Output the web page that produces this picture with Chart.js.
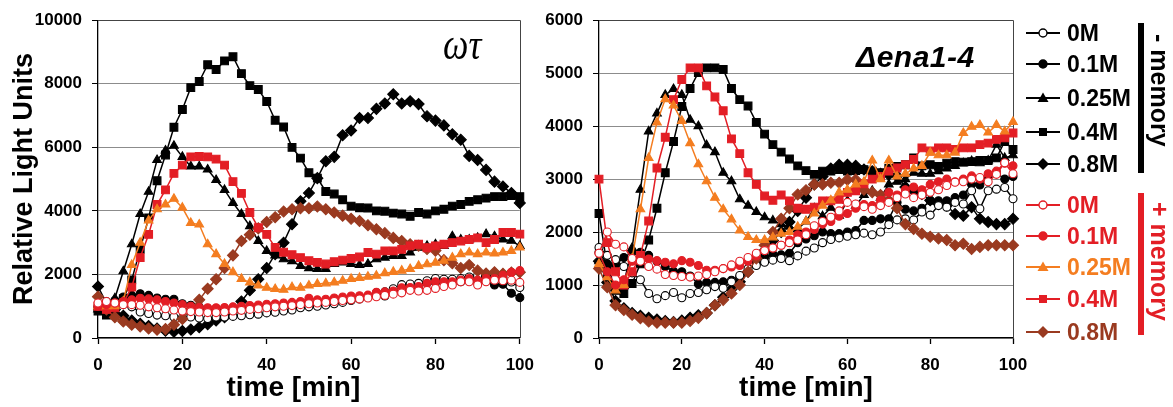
<!DOCTYPE html>
<html>
<head>
<meta charset="utf-8">
<script src="https://cdn.jsdelivr.net/npm/chart.js@4.4.0/dist/chart.umd.min.js"></script>
<style>
  body { margin: 0; background: #fff; width: 1173px; height: 407px; overflow: hidden; position: relative;
         font-family: Arial, "Liberation Sans", sans-serif; }
  canvas { position: absolute; top: 0; }
  #cWt { left: 0; }
  #cEna { left: 545px; }
  .tag { position: absolute; white-space: nowrap; }
  .row { position: absolute; left: 1026px; height: 23px; }
  .row svg { position: absolute; left: 0; top: 3px; }
  .row span { position: absolute; left: 41px; top: 0; font: bold 23px/23px Arial, "Liberation Sans", sans-serif; }
  .bar { position: absolute; left: 1138px; width: 6px; }
  .mem { position: absolute; left: 1146px; width: 28px; writing-mode: vertical-rl; text-align: center;
         font: bold 25px/28px Arial, "Liberation Sans", sans-serif; }
</style>
</head>
<body>
<canvas id="cWt" width="545" height="407"></canvas>
<canvas id="cEna" width="500" height="407"></canvas>
<div class="tag" style="left:443px;top:30px;font:italic 36px/36px 'Liberation Serif',serif;transform:scaleY(1.25);transform-origin:0 100%;">ωτ</div>
<div class="tag" style="left:856px;top:42px;font:italic bold 30px/30px Arial,'Liberation Sans',sans-serif;letter-spacing:0.5px;">Δena1-4</div>
<div id="legend"></div>
<script>
// ---- data: time points (min) ----
const times = [0,2,4,6,8,10,12,14,16,18,20,22,24,26,28,30,32,34,36,38,40,42,44,46,48,50,
  52,54,56,58,60,62,64,66,68,70,72,74,76,78,80,82,84,86,88,90,92,94,96,98,100];
const xTicks = [0,20,40,60,80,100];
const wtYTicks = [0,2000,4000,6000,8000,10000];
const enaYTicks = [0,1000,2000,3000,4000,5000,6000];
const concLabels = ['0M','0.1M','0.25M','0.4M','0.8M'];

// ---- wt, - memory ----
const wtNeg0 = [1000,1150,1050,1050,980,820,770,720,700,660,640,
  660,630,610,660,660,680,700,730,750,790,
  810,850,880,950,980,1000,1040,1080,1120,1180,
  1230,1300,1380,1450,1550,1680,1700,1720,1800,1870,
  1850,1850,1870,1920,1970,1870,1970,1900,1760,1590];
const wtNeg01 = [900,1080,1180,1290,1340,1390,1340,1260,1220,1220,1080,
  1030,980,920,920,920,920,940,960,980,1000,
  1000,1020,1050,1100,1080,1100,1150,1200,1230,1230,
  1260,1300,1420,1320,1490,1520,1590,1620,1720,1750,
  1750,1750,1770,1850,1770,1790,1670,1690,1410,1270];
const wtNeg025 = [900,1000,1250,2100,2950,3900,4600,5600,5900,6050,5700,
  5400,5400,5300,4970,4660,4250,3900,3520,3050,2740,
  2600,2480,2420,2270,2200,2170,2170,2330,2380,2330,
  2300,2330,2480,2530,2580,2580,2690,2840,2900,2950,
  2900,3200,3100,3100,3150,3270,3200,3100,3060,2900];
const wtNeg04 = [850,720,770,1240,1830,2790,3780,4950,5760,6630,7190,
  7880,8070,8600,8450,8720,8850,8320,7940,7820,7440,
  6850,6640,6000,5660,5200,5030,4610,4530,4350,4150,
  4100,4090,4000,3990,3930,3900,3830,3950,3900,4000,
  4050,4150,4200,4300,4350,4400,4450,4450,4480,4450];
const wtNeg08 = [1620,1100,900,700,550,450,380,300,230,200,220,
  270,340,430,550,650,850,1150,1500,1850,2200,
  2640,3000,3580,4300,4560,5030,5560,5700,6380,6530,
  6920,6920,7210,7380,7670,7380,7450,7360,6980,6840,
  6690,6410,6240,5730,5600,5290,4920,4770,4560,4250];

// ---- wt, + memory ----
const wtPos0 = [1100,1150,1100,1050,1050,1030,980,950,920,880,850,
  830,820,800,800,820,850,870,900,920,950,
  980,1000,1020,1050,1080,1100,1120,1150,1180,1200,
  1230,1260,1300,1340,1380,1420,1500,1480,1500,1560,
  1620,1670,1770,1770,1670,1770,1820,1800,1820,1750];
const wtPos01 = [1000,1050,1100,1150,1200,1250,1230,1200,1150,1100,1050,
  1000,960,950,950,960,980,1000,1020,1040,1060,
  1080,1100,1120,1150,1250,1200,1220,1260,1290,1320,
  1330,1350,1440,1450,1480,1580,1590,1620,1720,1770,
  1770,1770,1820,1870,1820,1870,1870,1970,2070,2120];
const wtPos025 = [1000,1000,1000,1150,2300,3000,3700,4050,4200,4380,4100,
  3620,3570,2950,2640,2330,2070,1860,1750,1650,1580,
  1540,1520,1600,1580,1650,1700,1720,1750,1800,1860,
  1890,1930,1960,2040,2080,2120,2170,2270,2320,2370,
  2430,2530,2640,2690,2640,2690,2660,2690,2740,2850];
const wtPos04 = [1000,900,950,1100,1600,2530,3260,4200,4660,5180,5440,
  5700,5710,5700,5630,5440,4920,4550,3950,3470,3260,
  2850,2700,2620,2530,2430,2380,2330,2400,2450,2500,
  2550,2690,2640,2740,2740,2790,2900,2950,2840,2900,
  2950,3000,3050,3100,3150,3000,3100,3320,3320,3270];
const wtPos08 = [1300,900,650,520,420,360,300,260,280,420,600,
  900,1200,1550,1850,2200,2600,3050,3250,3450,3650,
  3800,3980,4050,4080,4080,4140,4050,3950,3850,3750,
  3680,3550,3420,3300,3150,3050,2950,2900,2800,2750,
  2450,2350,2200,2300,2120,2030,2070,2020,2060,2070];

// ---- ena1-4, - memory ----
const enaNeg0 = [1710,1560,1480,1350,1230,1100,840,740,800,860,760,
  840,860,910,970,940,1060,1180,1310,1370,1430,
  1470,1500,1460,1550,1640,1700,1800,1860,1890,1920,
  1950,1980,1950,2000,2140,2230,2250,2230,2380,2320,
  2500,2470,2560,2530,2780,2440,2780,2810,2840,2630];
const enaNeg01 = [1620,1400,1380,1520,1620,1620,1560,1450,1350,1260,1250,
  1170,1020,1050,1050,1060,1090,1150,1260,1420,1530,
  1580,1570,1600,1800,1870,1930,2000,1970,1970,2000,
  2030,2220,2220,2250,2250,2560,2430,2400,2450,2590,
  2590,2590,2650,2700,2900,2890,3050,3120,3000,3050];
const enaNeg025 = [1450,1200,950,1030,1700,2800,3900,4240,4590,4700,4590,
  4120,4000,3640,3510,3120,2960,2620,2500,2380,2280,
  2220,2150,2100,2060,2200,2450,2300,2460,2310,2590,
  2500,2700,2780,2650,2900,2950,3000,3120,3100,3100,
  3150,3200,3250,3300,3340,3300,3350,3650,3400,3450];
const enaNeg04 = [2350,1350,900,840,1030,1400,1850,2450,3120,3710,4370,
  4710,5010,5100,5100,5070,4710,4500,4380,4070,3850,
  3650,3510,3380,3250,3160,3090,3150,3150,3180,3150,
  3160,3180,3150,3120,3200,3240,3270,3400,3250,3270,
  3240,3300,3330,3320,3330,3350,3350,3400,3710,3560];
const enaNeg08 = [1450,1050,700,560,470,420,380,350,320,300,330,
  380,430,470,620,770,920,1060,1250,1460,1650,
  1840,2000,2190,2400,2650,2900,3050,3200,3270,3270,
  3250,3180,3150,3100,3080,3060,2850,2780,2720,2600,
  2530,2500,2340,2310,2470,2250,2190,2150,2150,2250];

// ---- ena1-4, + memory ----
const enaPos0 = [1600,2000,1770,1720,1500,1450,1350,1300,1200,1180,1160,
  1150,1170,1200,1250,1310,1380,1450,1520,1600,1650,
  1700,1750,1800,1850,1950,2120,2200,2280,2400,2560,
  2530,2480,2430,2500,2560,2650,2720,2650,2700,2750,
  2800,2880,2940,2950,3000,3030,2950,3090,3310,3100];
const enaPos01 = [1600,1250,1000,1100,1450,1550,1490,1460,1430,1400,1460,
  1430,1370,1280,1280,1310,1340,1370,1450,1550,1650,
  1700,1750,1850,1950,2000,2050,2150,2200,2300,2350,
  2450,2520,2500,2600,2750,2700,2800,2850,2800,2900,
  2950,3000,2950,3000,3060,3000,3100,3150,3300,3250];
const enaPos025 = [1400,1150,900,1000,1500,2430,3400,4070,4510,4390,4100,
  3680,3280,2960,2650,2430,2240,2030,1910,1850,1850,
  1900,1970,2000,2100,2200,2350,2500,2600,2750,2800,
  2900,2950,3350,3000,3350,3050,3100,3200,3250,3500,
  3450,3450,3500,3870,3990,4020,3880,4020,3900,4080];
const enaPos04 = [3000,1800,1250,1000,1250,1560,2210,3210,3790,4500,4880,
  5100,5100,4760,4550,4290,3760,3480,3120,2900,2680,
  2600,2700,2590,2450,2430,2470,2590,2590,2620,2750,
  2780,2910,3000,3050,3150,3210,3270,3370,3590,3530,
  3590,3590,3560,3590,3590,3650,3680,3750,3780,3870];
const enaPos08 = [1310,960,620,530,440,375,310,290,290,290,290,
  320,380,470,620,720,840,1000,1250,1500,1750,
  2000,2250,2450,2710,2790,2900,2900,2930,2930,2990,
  2990,2800,2750,2700,2600,2450,2150,2060,1970,1910,
  1880,1850,1750,1780,1680,1720,1750,1750,1750,1750];

// ---- styles ----
const FONT = 'Arial, "Liberation Sans", sans-serif';
const RED = '#e31e25', ORANGE = '#f47d20', BROWN = '#9a3a20';
const posColors = [RED, RED, ORANGE, RED, BROWN];
const shapes = ['circle', 'circle', 'triangle', 'rect', 'rectRot'];
const openFlags = [true, false, false, false, false];
const radius = { circle: 4, triangle: 5, rect: 5.5, rectRot: 5.5 };

Chart.defaults.font.family = FONT;

function series(label, values, color, i, order) {
  return {
    label, order,
    data: values.map((v, k) => ({ x: times[k], y: v })),
    borderColor: color,
    backgroundColor: color,
    borderWidth: 1.5,
    pointStyle: shapes[i],
    pointRadius: radius[shapes[i]],
    pointBackgroundColor: openFlags[i] ? '#fff' : color,
    pointBorderColor: color,
    pointBorderWidth: 1.1,
    clip: false
  };
}

// top + right frame of the plot area
const frame = {
  id: 'frame',
  beforeDatasetsDraw(chart) {
    const { ctx, chartArea: a } = chart;
    ctx.save();
    ctx.strokeStyle = '#444';
    ctx.lineWidth = 1;
    ctx.beginPath();
    ctx.moveTo(a.left, Math.round(a.top) + 0.5);
    ctx.lineTo(Math.round(a.right) + 0.5, Math.round(a.top) + 0.5);
    ctx.lineTo(Math.round(a.right) + 0.5, a.bottom);
    ctx.stroke();
    ctx.restore();
  }
};

function panel(id, neg, pos, yTicks, opts) {
  const datasets = [];
  neg.forEach((v, i) => datasets.push(series('- memory ' + concLabels[i], v, '#000', i, 1)));
  pos.forEach((v, i) => datasets.push(series('+ memory ' + concLabels[i], v, posColors[i], i, 0)));
  const tickFont = { size: 17, weight: 'bold', family: FONT };
  return new Chart(document.getElementById(id), {
    type: 'line',
    data: { datasets },
    options: {
      responsive: false,
      animation: false,
      layout: { padding: { top: opts.top, right: opts.right, left: 0, bottom: 0 } },
      plugins: { legend: { display: false }, tooltip: { enabled: false } },
      scales: {
        x: {
          type: 'linear', min: 0, max: 100,
          afterBuildTicks: s => { s.ticks = xTicks.map(v => ({ value: v })); },
          afterFit: s => { s.height = 69; },
          border: { color: '#000', width: 1.3 },
          grid: { drawOnChartArea: false, tickLength: 6, tickColor: '#000', tickWidth: 1.3 },
          ticks: { padding: 11, color: '#000', font: tickFont, maxRotation: 0 },
          title: { display: true, text: opts.xTitle, color: '#000',
                   font: { size: 28, weight: 'bold', family: FONT }, padding: { top: 0, bottom: 2 } }
        },
        y: {
          min: 0, max: yTicks[yTicks.length - 1],
          afterBuildTicks: s => { s.ticks = yTicks.map(v => ({ value: v })); },
          afterFit: s => { s.width = opts.yWidth; },
          border: { color: '#000', width: 1.3 },
          grid: { color: '#8c8c8c', lineWidth: 1, tickLength: 6, tickColor: '#000' },
          ticks: { padding: 10, color: '#000', font: tickFont, callback: v => String(v) },
          title: opts.yTitle
            ? { display: true, text: opts.yTitle, color: '#000',
                font: { size: 27, weight: 'bold', family: FONT }, padding: { top: 8, bottom: 0 } }
            : { display: false }
        }
      }
    },
    plugins: [frame]
  });
}

// left panel's axis title sits a bit left of the plot centre in the original
panel('cWt', [wtNeg0, wtNeg01, wtNeg025, wtNeg04, wtNeg08],
      [wtPos0, wtPos01, wtPos025, wtPos04, wtPos08], wtYTicks,
      { top: 17, right: 25, yWidth: 98, yTitle: 'Relative Light Units',
        xTitle: 'time [min]\u00a0\u00a0\u00a0\u00a0' });
panel('cEna', [enaNeg0, enaNeg01, enaNeg025, enaNeg04, enaNeg08],
      [enaPos0, enaPos01, enaPos025, enaPos04, enaPos08], enaYTicks,
      { top: 18, right: 32, yWidth: 54, xTitle: 'time [min]' });

// ---- legend ----
function markerSvg(shape, color, open) {
  let m;
  if (shape === 'circle') m = `<circle cx="17" cy="8" r="4" fill="${open ? '#fff' : color}" stroke="${color}" stroke-width="1.4"/>`;
  else if (shape === 'triangle') m = `<polygon points="17,2.5 22.5,12 11.5,12" fill="${color}"/>`;
  else if (shape === 'rect') m = `<rect x="13" y="4" width="8" height="8" fill="${color}"/>`;
  else m = `<polygon points="17,2 23,8 17,14 11,8" fill="${color}"/>`;
  return `<svg width="36" height="16"><line x1="0" y1="8" x2="34" y2="8" stroke="${color}" stroke-width="2"/>${m}</svg>`;
}
const negRows = [33, 64, 98, 132, 164];
const posRows = [205, 236, 267, 299, 332];
let html = '';
concLabels.forEach((lab, i) => {
  html += `<div class="row" style="top:${negRows[i] - 11}px">${markerSvg(shapes[i], '#000', openFlags[i])}<span style="color:#000">${lab}</span></div>`;
});
concLabels.forEach((lab, i) => {
  const c = posColors[i];
  html += `<div class="row" style="top:${posRows[i] - 11}px">${markerSvg(shapes[i], c, openFlags[i])}<span style="color:${c}">${lab}</span></div>`;
});
html += `<div class="bar" style="top:23px;height:150px;background:#000"></div>`;
html += `<div class="bar" style="top:193px;height:142px;background:${RED}"></div>`;
html += `<div class="mem" style="top:23px;height:134px;color:#000">- memory</div>`;
html += `<div class="mem" style="top:193px;height:136px;color:${RED}">+ memory</div>`;
document.getElementById('legend').innerHTML = html;
</script>
</body>
</html>
